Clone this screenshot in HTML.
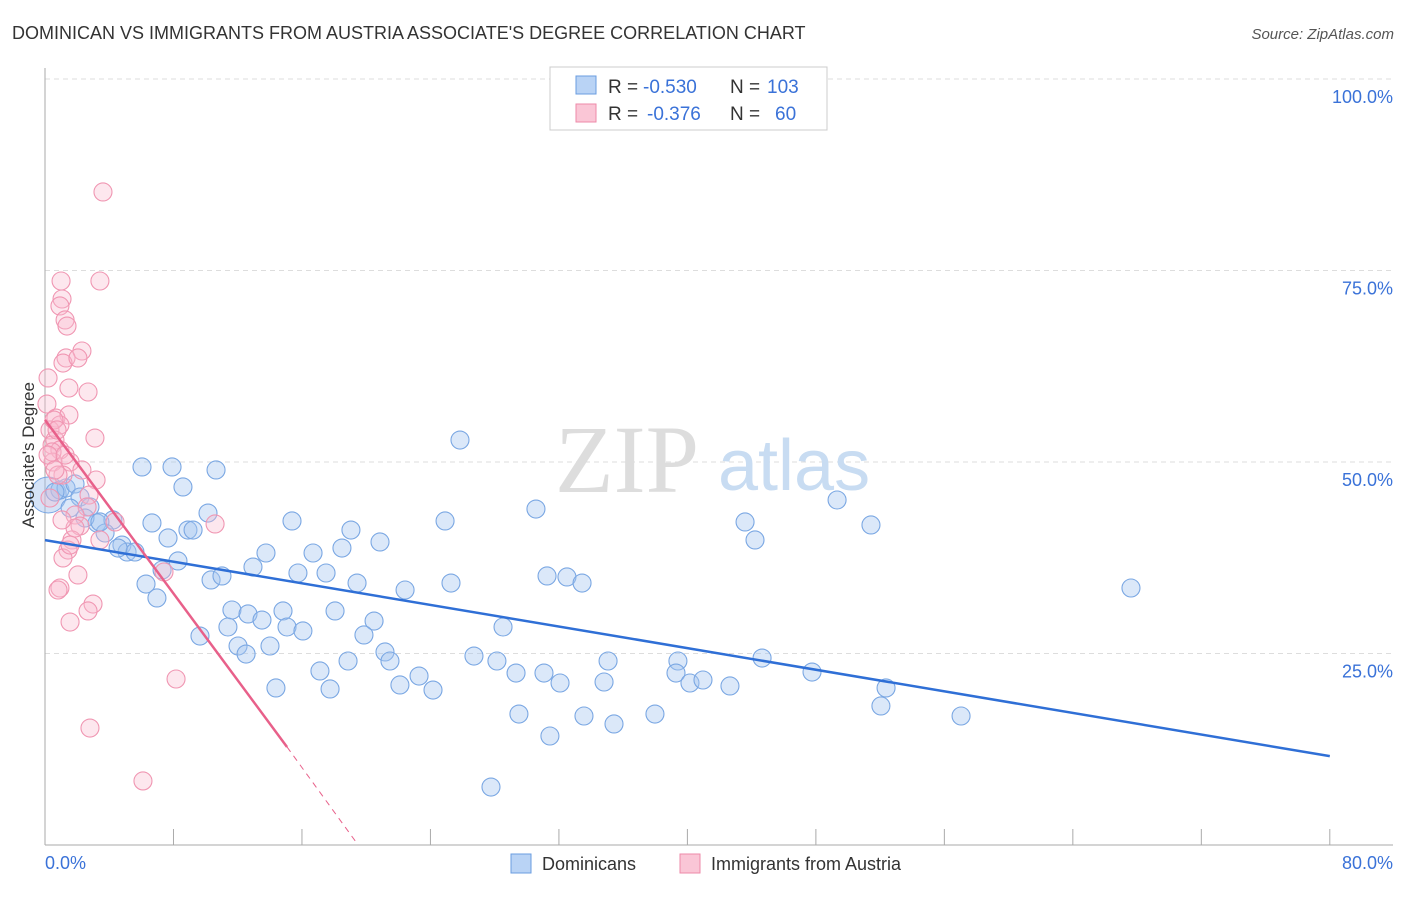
<!DOCTYPE html>
<html><head><meta charset="utf-8"><style>
body{margin:0;background:#fff;font-family:"Liberation Sans",sans-serif;}
</style></head><body>
<svg width="1406" height="892" xmlns="http://www.w3.org/2000/svg">
<text x="12" y="39" font-size="18" fill="#333">DOMINICAN VS IMMIGRANTS FROM AUSTRIA ASSOCIATE'S DEGREE CORRELATION CHART</text>
<text x="1394" y="39" font-size="15" fill="#555" font-style="italic" text-anchor="end">Source: ZipAtlas.com</text>
<g id="grid"></g>
<text x="555" y="492" font-size="96" fill="#ddd" font-family="Liberation Serif,serif">ZIP</text>
<text x="718" y="490" font-size="72" fill="#c8dcf2">atlas</text>
<g id="pts"></g>
<g id="lines"></g>
<text transform="translate(34,455) rotate(-90)" font-size="17" fill="#333" text-anchor="middle">Associate's Degree</text>
<text x="45" y="869" font-size="18" fill="#3a72d8">0.0%</text>
<text x="1393" y="869" font-size="18" fill="#3a72d8" text-anchor="end">80.0%</text>
<g>
<rect x="550" y="67" width="277" height="63" fill="#fff" stroke="#ccc"/>
<rect x="576" y="76" width="20" height="18" fill="#b9d3f5" stroke="#6a9de0"/>
<rect x="576" y="104" width="20" height="18" fill="#fac6d6" stroke="#ee8aa8"/>
<text x="608" y="93" font-size="19" fill="#333">R =</text>
<text x="643" y="93" font-size="19" fill="#3a72d8">-0.530</text>
<text x="730" y="93" font-size="19" fill="#333">N =</text>
<text x="767" y="93" font-size="19" fill="#3a72d8">103</text>
<text x="608" y="120" font-size="19" fill="#333">R =</text>
<text x="647" y="120" font-size="19" fill="#3a72d8">-0.376</text>
<text x="730" y="120" font-size="19" fill="#333">N =</text>
<text x="775" y="120" font-size="19" fill="#3a72d8">60</text>
</g>
<g>
<rect x="511" y="854" width="20" height="19" fill="#b9d3f5" stroke="#6a9de0"/>
<text x="542" y="870" font-size="18" fill="#333">Dominicans</text>
<rect x="680" y="854" width="20" height="19" fill="#fac6d6" stroke="#ee8aa8"/>
<text x="711" y="870" font-size="18" fill="#333">Immigrants from Austria</text>
</g>
</svg>
<script>
const yTicks=[25,50,75,100];
const yTickLabels=["25.0%","50.0%","75.0%","100.0%"];
const xTicks=[0,8,16,24,32,40,48,56,64,72,80];
const bluePx=[[460,440],[536,509],[837,500],[871,525],[745,522],[755,540],[1131,588],[142,467],[172,467],[183,487],[216,470],[208,513],[152,523],[168,538],[188,530],[193,530],[292,521],[351,530],[313,553],[342,548],[380,542],[445,521],[266,553],[253,567],[298,573],[326,573],[357,583],[405,590],[451,583],[547,576],[567,577],[582,583],[178,561],[162,570],[146,584],[157,598],[211,580],[222,576],[232,610],[248,614],[262,620],[283,611],[228,627],[200,636],[287,627],[303,631],[335,611],[374,621],[364,635],[238,646],[246,654],[270,646],[320,671],[348,661],[385,652],[390,661],[419,676],[400,685],[433,690],[474,656],[497,661],[503,627],[516,673],[544,673],[560,683],[608,661],[604,682],[678,661],[676,673],[690,683],[703,680],[730,686],[762,658],[812,672],[886,688],[881,706],[961,716],[519,714],[584,716],[614,724],[655,714],[550,736],[491,787],[276,688],[330,689],[60,490],[66,488],[75,484],[55,492],[80,497],[70,508],[90,507],[97,523],[113,520],[105,533],[122,545],[127,552],[135,552],[85,518],[100,522],[118,548]];
const pinkPx=[[103,192],[61,281],[100,281],[62,299],[60,306],[65,320],[67,326],[82,351],[66,358],[63,363],[78,358],[48,378],[69,388],[88,392],[47,404],[56,418],[69,415],[60,425],[50,430],[55,440],[95,438],[52,445],[60,450],[70,462],[82,470],[53,462],[96,480],[63,475],[89,495],[58,475],[87,507],[75,515],[80,526],[115,522],[215,524],[72,540],[68,550],[63,558],[78,575],[164,572],[60,588],[58,590],[93,604],[88,611],[70,622],[176,679],[90,728],[143,781],[54,420],[57,430],[52,452],[48,455],[65,455],[75,528],[62,520],[55,470],[100,540],[70,545],[50,498]];
const blueX=bluePx.map(p=>+((p[0]-45)/16.06).toFixed(2));
const blueY=bluePx.map(p=>+((845-p[1])/7.66).toFixed(2));
const pinkX=pinkPx.map(p=>+((p[0]-45)/16.06).toFixed(2));
const pinkY=pinkPx.map(p=>+((845-p[1])/7.66).toFixed(2));
const blueTrend=[39.8,11.6];
const pinkTrend=[55.5,12.8,15.07,19.5];
const X=v=>45+v*16.06, Y=v=>845-v*7.66;
const NS="http://www.w3.org/2000/svg";
function mk(t,a,p){const e=document.createElementNS(NS,t);for(const k in a)e.setAttribute(k,a[k]);p.appendChild(e);return e;}
const g=document.getElementById('grid');
yTicks.forEach((t,i)=>{
 const l=mk('line',{x1:45,x2:1393,y1:Y(t),y2:Y(t),stroke:'#ddd','stroke-dasharray':'5,4'},g);
 
 
 const tx=mk('text',{x:1393,y:Y(t)+24,'font-size':18,fill:'#3a72d8','text-anchor':'end'},g);
 tx.textContent=yTickLabels[i];
 
 
});
const ax=mk('line',{x1:45,x2:45,y1:68,y2:845,stroke:'#aaa'},g);


const bx=mk('line',{x1:45,x2:1393,y1:845,y2:845,stroke:'#aaa'},g);


xTicks.forEach(t=>{const l=mk('line',{x1:X(t),x2:X(t),y1:829,y2:845,stroke:'#aaa'},g);
 
 });
const pg=document.getElementById('pts');
const big=mk('circle',{cx:X(0.2),cy:Y(45.7),r:18,fill:'rgba(150,185,235,0.4)',stroke:'#7aa7e3'},pg);


blueX.forEach((x,i)=>{const c=mk('circle',{cx:X(x),cy:Y(blueY[i]),r:9,fill:'rgba(165,198,240,0.4)',stroke:'#7aa7e3','stroke-width':1.1},pg);
 
 });
pinkX.forEach((x,i)=>{const c=mk('circle',{cx:X(x),cy:Y(pinkY[i]),r:9,fill:'rgba(248,185,205,0.35)',stroke:'#f096b2','stroke-width':1.1},pg);
 
 });
const lg=document.getElementById('lines');
const bl=mk('line',{x1:X(0),y1:Y(blueTrend[0]),x2:X(80),y2:Y(blueTrend[1]),stroke:'#2f6fd6','stroke-width':2.5},lg);


const pl=mk('line',{x1:X(0),y1:Y(pinkTrend[0]),x2:X(pinkTrend[2]),y2:Y(pinkTrend[1]),stroke:'#e8608a','stroke-width':2.5},lg);


const pd=mk('line',{x1:X(pinkTrend[2]),y1:Y(pinkTrend[1]),x2:X(pinkTrend[3]),y2:Y(0),stroke:'#e8608a','stroke-width':1,'stroke-dasharray':'6,5'},lg);


</script>
</body></html>
